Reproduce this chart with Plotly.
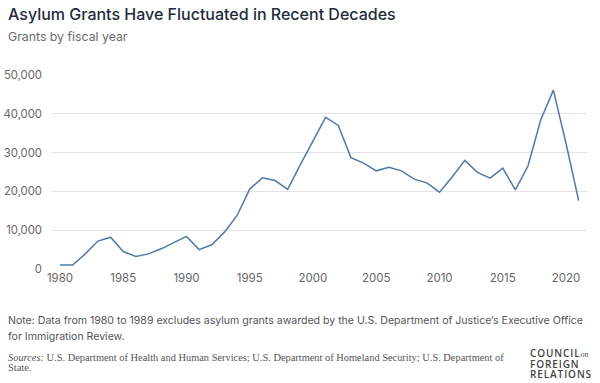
import plotly.graph_objects as go

years = list(range(1980, 2022))
grants = [1000, 1000, 3900, 7200, 8200, 4500, 3250, 3900, 5200, 6800,
          8400, 5000, 6250, 9500, 13800, 20600, 23500, 22800, 20500, 26900,
          32800, 39100, 37000, 28700, 27300, 25300, 26200, 25300, 23150, 22200,
          19800, 23700, 28000, 24900, 23400, 26000, 20400, 26600, 38400, 46100,
          32400, 17600]

x_ticks = [1980, 1985, 1990, 1995, 2000, 2005, 2010, 2015, 2020]
y_ticks = [0, 10000, 20000, 30000, 40000, 50000]
y_tick_text = ["0", "10,000", "20,000", "30,000", "40,000", "50,000"]

title = "Asylum Grants Have Fluctuated in Recent Decades"
subtitle = "Grants by fiscal year"
note_lines = ["Note: Data from 1980 to 1989 excludes asylum grants awarded by the U.S. Department of Justice’s Executive Office",
              "for Immigration Review."]
sources_lines = ["<i>Sources:</i> U.S. Department of Health and Human Services; U.S. Department of Homeland Security; U.S. Department of",
                 "State."]
logo_words = ["COUNCIL", "FOREIGN", "RELATIONS"]

fig = go.Figure()
fig.add_trace(go.Scatter(x=years, y=grants, mode="lines",
                         line=dict(color="#4f79aa", width=1.5),
                         hoverinfo="x+y"))

W, H = 600, 383
ml, mr, mt, mb = 52, 13, 75, 114
PW, PH = W - ml - mr, H - mt - mb

fig.update_layout(
    width=W, height=H,
    margin=dict(l=ml, r=mr, t=mt, b=mb, autoexpand=False),
    paper_bgcolor="white", plot_bgcolor="white",
    showlegend=False,
    font=dict(family="Inter, Noto Sans, sans-serif", color="#666666", size=11.5),
    xaxis=dict(range=[1979.37, 2021.66], tickvals=x_ticks, showgrid=False,
               zeroline=False, showline=False, ticks="", automargin=False,
               tickfont=dict(size=11.5, color="#666666"), fixedrange=True),
    yaxis=dict(range=[0, 50000], tickvals=y_ticks, ticktext=y_tick_text,
               showgrid=True, gridcolor="#e2e2e2", gridwidth=1,
               zeroline=False, showline=False, ticks="", automargin=False,
               ticklabelstandoff=9,
               tickfont=dict(size=11.3, color="#666666"), fixedrange=True),
)

def px(x):
    return (x - ml) / PW

def py(y):
    return (H - mb - y) / PH

def add_text(text, x, y, size, color, family, weight=400):
    fig.add_annotation(text=text, xref="paper", yref="paper",
                       x=px(x), y=py(y), xanchor="left", yanchor="middle",
                       showarrow=False, align="left", borderpad=0,
                       font=dict(size=size, color=color, family=family, weight=weight))

add_text(title, 7, 14, 16, "#1f2d3d", "Inter", 500)
add_text(subtitle, 7, 36, 12.3, "#6b6b6b", "Inter", 400)
for t, yy in zip(note_lines, [320, 336]):
    add_text(t, 7, yy, 10.55, "#555555", "Inter", 400)
for t, yy in zip(sources_lines, [357, 367]):
    add_text(t, 7, yy, 10.4, "#555555", "Liberation Serif", 400)

spaced = "<span style='letter-spacing:0.9px'>{}</span>"
logo_lines = [spaced.format(logo_words[0]) +
              "<i><span style='font-family:Liberation Serif;font-size:8px;font-weight:400'>on</span></i>",
              spaced.format(logo_words[1]), spaced.format(logo_words[2])]
for t, yy in zip(logo_lines, [352.5, 363.5, 374]):
    add_text(t, 529, yy, 10, "#444444", "Open Sans", 600)

fig.write_html("out.html", config={"displayModeBar": False},
               post_script="document.body.style.margin='0';")
